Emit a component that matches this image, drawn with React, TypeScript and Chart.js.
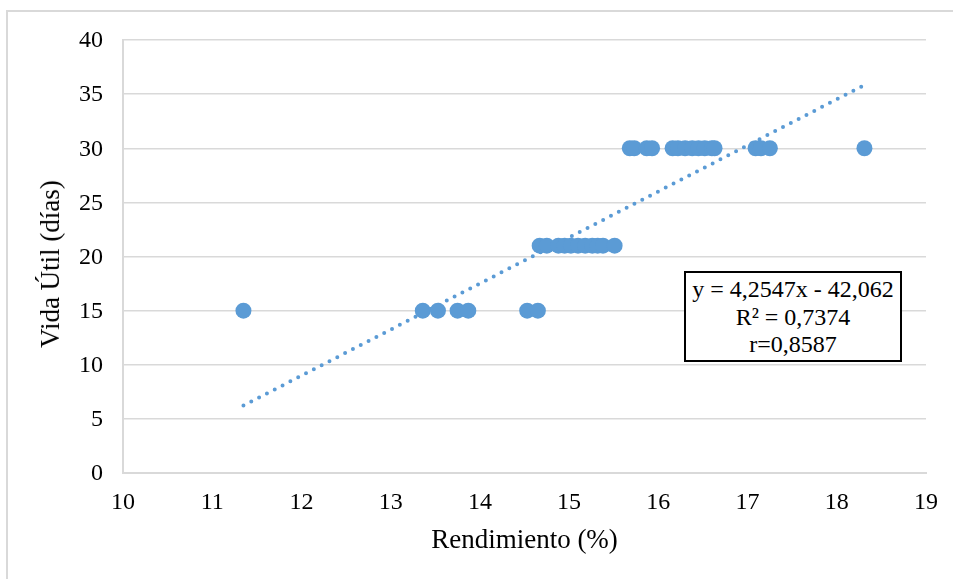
import React, { useEffect, useRef } from "react";
import { Chart, registerables } from "chart.js";

Chart.register(...registerables);

// Rendimiento (%) of the samples, grouped by their shelf life (días)
const rendimiento15 = [11.35, 13.36, 13.53, 13.75, 13.87, 14.53, 14.65];
const rendimiento21 = [14.67, 14.75, 14.88, 14.95, 15.02, 15.1, 15.18, 15.26, 15.32, 15.38, 15.51];
const rendimiento30 = [15.68, 15.73, 15.87, 15.93, 16.16, 16.22, 16.3, 16.38, 16.45, 16.52, 16.6, 16.63, 17.09, 17.15, 17.25, 18.31];
const vidaUtilGroups = [15, 21, 30];

// Linear fit reported in the label box
const slope = 4.2547;
const intercept = -42.062;
const equationLines = ["y = 4,2547x - 42,062", "R² = 0,7374", "r=0,8587"];

const xTitle = "Rendimiento (%)";
const yTitle = "Vida Útil (días)";

const FONT = "'Liberation Serif', 'Times New Roman', serif";
const BLUE = "#5B9BD5";
const GRID = "#d9d9d9";

export default function App() {
  const canvasRef = useRef<HTMLCanvasElement | null>(null);

  useEffect(() => {
    const canvas = canvasRef.current;
    if (!canvas) return;

    const groups = [rendimiento15, rendimiento21, rendimiento30];
    const points: { x: number; y: number }[] = [];
    groups.forEach((xs, i) => xs.forEach((x) => points.push({ x, y: vidaUtilGroups[i] })));

    const allX = points.map((p) => p.x);
    const xMin = Math.min(...allX);
    const xMax = Math.max(...allX);
    const trend = [
      { x: xMin, y: slope * xMin + intercept },
      { x: xMax, y: slope * xMax + intercept },
    ];

    const chart = new Chart(canvas, {
      type: "scatter",
      data: {
        datasets: [
          {
            type: "line",
            data: trend,
            borderColor: BLUE,
            borderWidth: 4,
            borderDash: [0, 8.8],
            borderCapStyle: "round",
            pointRadius: 0,
            fill: false,
            order: 2,
          },
          {
            data: points,
            backgroundColor: BLUE,
            borderWidth: 0,
            pointRadius: 8,
            pointHoverRadius: 8,
            order: 1,
          },
        ],
      },
      options: {
        animation: false,
        responsive: false,
        events: [],
        layout: { padding: { left: 0, top: 40, right: 27, bottom: 0 } },
        plugins: { legend: { display: false }, tooltip: { enabled: false } },
        scales: {
          x: {
            type: "linear",
            min: 10,
            max: 19,
            afterFit: (scale: any) => {
              scale.height = 106;
            },
            ticks: {
              stepSize: 1,
              color: "#000",
              padding: 15,
              font: { family: FONT, size: 24 },
            },
            grid: { display: false, drawTicks: false },
            border: { display: true, color: GRID, width: 2 },
            title: {
              display: true,
              text: xTitle,
              color: "#000",
              font: { family: FONT, size: 27 },
              padding: { top: 0, bottom: 21.8 },
            },
          },
          y: {
            type: "linear",
            min: 0,
            max: 40,
            afterFit: (scale: any) => {
              scale.width = 123;
            },
            ticks: {
              stepSize: 5,
              color: "#000",
              padding: 20,
              labelOffset: 1,
              font: { family: FONT, size: 24 },
            },
            grid: { color: GRID, lineWidth: 1.5, drawTicks: false },
            border: { display: true, color: GRID, width: 2 },
          },
        },
      },
    } as any);

    return () => chart.destroy();
  }, []);

  return (
    <div style={{ position: "fixed", left: 0, top: 0, width: 953, height: 579, background: "#fff", overflow: "hidden" }}>
      <div
        style={{
          position: "absolute",
          left: 6,
          top: 10,
          width: 1000,
          height: 1000,
          border: `2px solid ${GRID}`,
          boxSizing: "border-box",
        }}
      />
      <canvas ref={canvasRef} width={953} height={579} style={{ position: "absolute", left: 0, top: 0, width: 953, height: 579 }} />
      <div
        style={{
          position: "absolute",
          left: 50,
          top: 264,
          transform: "translate(-50%, -50%) rotate(-90deg)",
          whiteSpace: "nowrap",
          fontFamily: FONT,
          fontSize: 27,
          lineHeight: "32px",
          color: "#000",
        }}
      >
        {yTitle}
      </div>
      <div
        style={{
          position: "absolute",
          left: 684,
          top: 271,
          width: 218,
          height: 91,
          border: "2px solid #000",
          boxSizing: "border-box",
          background: "#fff",
          fontFamily: FONT,
          fontSize: 24,
          lineHeight: "27.5px",
          textAlign: "center",
          color: "#000",
          paddingTop: 3,
        }}
      >
        {equationLines.map((t) => (
          <div key={t}>{t}</div>
        ))}
      </div>
    </div>
  );
}
